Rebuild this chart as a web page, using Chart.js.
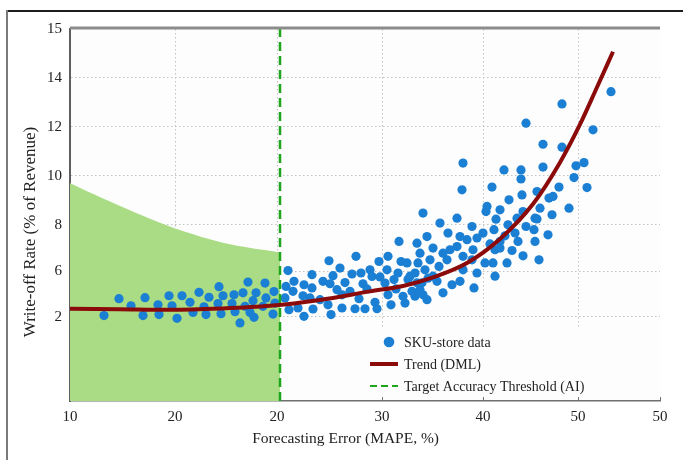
<!DOCTYPE html>
<html>
<head>
<meta charset="utf-8">
<script src="https://cdn.jsdelivr.net/npm/chart.js"></script>
<style>
  html, body { margin: 0; padding: 0; background: #fff; }
  #chart { display: block; }
</style>
</head>
<body>
<canvas id="chart" width="683" height="460"></canvas>
<script>
// values are in plot-axis units; the printed tick labels come from the label arrays below
const skuMape = [
  13.4, 14.9, 16.1, 17.3, 17.5, 18.8, 18.9, 19.9, 20.2, 20.7, 21.2, 22.0, 22.3, 22.9, 23.4, 23.6,
  23.9, 24.8, 24.9, 25.1, 25.3, 26.2, 26.4, 26.5, 27.0, 27.3, 27.5, 27.8, 28.0, 28.3, 28.4, 28.6,
  29.3, 29.5, 29.6, 30.3, 30.4, 30.5, 31.5, 31.8, 31.6, 32.4, 32.3, 31.9, 32.8, 33.4, 33.4, 33.3,
  34.2, 34.2, 34.0, 34.3, 35.0, 35.3, 35.9, 36.0, 35.8, 36.1, 36.3, 36.7, 37.0, 37.2, 37.2, 37.5,
  38.0, 38.2, 38.5, 38.6, 38.9, 39.1, 39.3, 39.5, 39.7, 40.0, 40.2, 40.5, 40.7, 40.9, 41.0, 41.5,
  41.7, 41.8, 41.8, 42.1, 42.4, 42.6, 42.8, 42.9, 43.1, 43.3, 43.5, 43.7, 43.8, 44.2, 44.5, 44.7,
  44.8, 45.0, 45.2, 45.3, 45.5, 45.7, 45.7, 45.8, 49.3, 49.2, 45.3, 47.0, 48.7, 50.2, 51.7, 51.6,
  52.2, 53.0, 53.4, 53.9, 55.1, 55.1, 55.2, 56.7, 57.3, 57.9, 58.3, 58.2, 57.8, 57.0, 56.5, 56.4,
  56.5, 56.9, 55.3, 54.7, 55.6, 55.3, 54.5, 53.8, 52.6, 52.4, 53.0, 52.5, 53.7, 52.5, 51.5, 51.3,
  50.7, 50.3, 50.2, 50.7, 50.4, 49.7, 49.0, 48.7, 49.3, 49.3, 49.0, 47.8, 48.0, 47.7, 47.3, 46.9,
  46.3, 46.0, 46.3, 47.3, 48.2, 44.7, 44.0, 44.5, 45.0, 46.7, 64.1, 59.2, 55.6, 62.3, 57.3, 59.2,
  61.4, 60.6, 60.4, 61.7, 58.9, 59.9, 56.7, 54.8, 52.0, 53.0, 54.2, 52.3, 53.5
];
const skuWriteOff = [
  4.29, 4.98, 4.69, 4.29, 5.02, 4.73, 4.33, 5.10, 4.69, 4.18, 5.10, 4.83, 4.42, 5.24, 4.65, 4.33,
  5.04, 4.78, 5.47, 4.37, 5.10, 4.78, 5.14, 4.45, 3.99, 5.22, 4.67, 5.66, 4.42, 4.90, 4.22, 5.22,
  4.67, 5.62, 5.01, 4.35, 5.27, 4.80, 5.01, 6.13, 5.48, 5.69, 5.28, 4.53, 4.60, 4.26, 5.55, 5.10,
  5.96, 5.42, 5.01, 4.56, 4.94, 5.69, 6.53, 5.59, 4.73, 4.33, 5.92, 5.35, 6.23, 5.14, 4.60, 5.64,
  5.28, 5.99, 4.57, 6.71, 4.98, 6.03, 5.59, 4.57, 5.38, 6.16, 5.89, 4.83, 4.57, 6.50, 5.87, 5.62,
  6.16, 6.71, 5.14, 4.73, 5.76, 5.38, 6.03, 7.32, 6.50, 5.08, 4.80, 6.44, 5.76, 5.28, 6.03, 7.25,
  6.44, 6.84, 5.63, 5.14, 6.16, 7.52, 4.94, 5.82, 10.52, 9.43, 8.48, 8.07, 8.27, 7.93, 8.75, 8.54,
  9.54, 8.61, 10.24, 9.02, 10.24, 9.87, 9.22, 9.36, 10.36, 9.09, 9.16, 8.41, 7.59, 8.68, 8.27, 7.80,
  7.32, 6.57, 8.54, 8.27, 7.93, 6.73, 7.66, 8.00, 8.23, 7.80, 7.32, 6.98, 6.44, 5.90, 6.44, 7.66,
  7.46, 6.98, 6.57, 6.03, 5.42, 7.39, 7.52, 7.11, 6.71, 6.16, 5.69, 7.66, 6.98, 6.57, 6.84, 6.30,
  7.05, 6.57, 5.90, 5.22, 5.55, 5.63, 5.90, 5.08, 5.35, 5.69, 13.44, 12.94, 12.15, 11.88, 11.29, 11.17,
  10.54, 10.41, 9.93, 9.52, 9.54, 8.68, 8.24, 7.32, 7.22, 7.05, 6.95, 6.44, 7.55
];

const trendMape = [10, 15, 20, 25, 30, 35, 40, 43.3, 46.3, 49.7, 53, 56.3, 59, 61, 62.7, 64.3];
const trendWriteOff = [4.57, 4.55, 4.53, 4.58, 4.69, 4.93, 5.28, 5.5, 5.85, 6.44, 7.42, 8.85, 10.55, 12.1, 13.62, 15.07];

const zoneMape = [10, 14, 18, 22, 26, 31];
const zoneCeiling = [9.70, 8.95, 8.25, 7.65, 7.2, 6.87];

const thresholdMape = 31;

const xMin = 10, xMax = 69;
const yMin = 0.8, yMax = 16;
const xTickPos = [10, 20.5, 30.7, 41.2, 51.3, 60.8, 69];
const xTickLabels = ['10', '20', '20', '30', '40', '50', '50'];
const yTickPos = [4.25, 6.1, 8, 10, 12, 14, 16];
const yTickLabels = ['2', '6', '8', '10', '12', '14', '15'];

const serif = "'Liberation Serif', 'DejaVu Serif', serif";
const pts = (xs, ys) => xs.map((x, i) => ({x: x, y: ys[i]}));

const frame = {
  id: 'frame',
  beforeDraw(chart) {
    const {ctx, chartArea: a, width, height} = chart;
    ctx.save();
    ctx.fillStyle = '#fff';
    ctx.fillRect(0, 0, width, height);
    ctx.fillStyle = '#fdfdfd';
    ctx.fillRect(a.left, a.top, a.right - a.left, a.bottom - a.top);
    ctx.lineWidth = 2;
    ctx.strokeStyle = '#1e1e1e';
    ctx.beginPath(); ctx.moveTo(7, 11); ctx.lineTo(width, 11); ctx.stroke();
    ctx.strokeStyle = '#7a7a7a';
    ctx.beginPath(); ctx.moveTo(7, 10); ctx.lineTo(7, height); ctx.stroke();
    ctx.restore();
  },
  beforeDatasetsDraw(chart) {
    // legend backdrop hides the grid behind it
    const {ctx, chartArea: a} = chart;
    ctx.save();
    ctx.fillStyle = '#fdfdfd';
    ctx.fillRect(290, a.bottom - 72, a.right - 291, 71);
    ctx.restore();
  },
  afterDraw(chart) {
    const {ctx, chartArea: a} = chart;
    ctx.save();
    ctx.strokeStyle = '#8c8c8c';
    ctx.lineWidth = 3;
    ctx.beginPath(); ctx.moveTo(a.left, a.top - 1); ctx.lineTo(a.right, a.top - 1); ctx.stroke();

    // small upward ticks on the bottom axis
    ctx.strokeStyle = '#707070';
    ctx.lineWidth = 1;
    const xs = chart.scales.x;
    xTickPos.slice(3).forEach(v => {
      const px = Math.round(xs.getPixelForValue(v)) + 0.5;
      ctx.beginPath(); ctx.moveTo(px, a.bottom); ctx.lineTo(px, a.bottom - 4); ctx.stroke();
    });

    const ds = chart.data.datasets;
    const rows = [ds[2], ds[0], ds[1]];
    ctx.font = '14px ' + serif;
    ctx.textBaseline = 'middle';
    rows.forEach((d, i) => {
      const y = a.bottom - 59 + i * 22;
      if (i === 0) {
        ctx.fillStyle = d.backgroundColor;
        ctx.beginPath(); ctx.arc(389, y, 5.3, 0, Math.PI * 2); ctx.fill();
      } else {
        ctx.strokeStyle = d.borderColor;
        ctx.lineWidth = i === 1 ? 4 : 2;
        ctx.setLineDash(i === 2 ? [7, 4] : []);
        ctx.beginPath(); ctx.moveTo(370, y); ctx.lineTo(398, y); ctx.stroke();
        ctx.setLineDash([]);
      }
      ctx.fillStyle = '#222';
      ctx.fillText(d.label, 404, y + 1);
    });
    ctx.restore();
  }
};

new Chart(document.getElementById('chart'), {
  type: 'scatter',
  data: {
    datasets: [
      {
        type: 'line',
        label: 'Trend (DML)',
        data: pts(trendMape, trendWriteOff),
        borderColor: '#8b0a0a',
        borderWidth: 4,
        pointRadius: 0,
        cubicInterpolationMode: 'monotone',
        fill: false,
        order: 0
      },
      {
        type: 'line',
        label: 'Target Accuracy Threshold (AI)',
        data: [{x: thresholdMape, y: yMin}, {x: thresholdMape, y: yMax}],
        borderColor: '#1ea51e',
        borderWidth: 2.5,
        borderDash: [9, 5],
        pointRadius: 0,
        fill: false,
        order: 1
      },
      {
        label: 'SKU-store data',
        data: pts(skuMape, skuWriteOff),
        backgroundColor: '#1b7fd3',
        borderWidth: 0,
        pointRadius: 4.6,
        order: 2
      },
      {
        type: 'line',
        label: 'zone',
        data: pts(zoneMape, zoneCeiling),
        borderWidth: 0,
        borderColor: 'rgba(0,0,0,0)',
        backgroundColor: '#a9dc84',
        pointRadius: 0,
        tension: 0.4,
        fill: 'start',
        order: 3
      }
    ]
  },
  options: {
    responsive: false,
    animation: false,
    events: [],
    layout: { padding: { top: 29, right: 23, bottom: 0, left: 0 } },
    plugins: { legend: { display: false }, tooltip: { enabled: false } },
    scales: {
      x: {
        type: 'linear',
        min: xMin,
        max: xMax,
        afterBuildTicks: s => { s.ticks = xTickPos.map(v => ({value: v})); },
        afterFit: s => { s.height = 59; },
        ticks: {
          autoSkip: false,
          maxRotation: 0,
          padding: 7,
          color: '#222',
          font: { family: serif, size: 15 },
          callback: (v, i) => xTickLabels[i]
        },
        grid: {
          drawTicks: false,
          lineWidth: 1,
          color: c => (c.tick && (c.tick.value === xMin || c.tick.value === xMax)) ? 'rgba(0,0,0,0)' : '#c2c2c2'
        },
        border: { display: true, color: '#707070', width: 1.5, dash: [1.5, 2.5] },
        title: {
          display: true,
          text: 'Forecasting Error (MAPE, %)\u2003\u2003\u2002',
          color: '#222',
          font: { family: serif, size: 15.5 },
          padding: { top: 0, bottom: 12 }
        }
      },
      y: {
        type: 'linear',
        min: yMin,
        max: yMax,
        afterBuildTicks: s => { s.ticks = yTickPos.map(v => ({value: v})); },
        afterFit: s => { s.width = 70; },
        ticks: {
          autoSkip: false,
          padding: 8,
          color: '#222',
          font: { family: serif, size: 15 },
          callback: (v, i) => yTickLabels[i]
        },
        grid: {
          drawTicks: false,
          lineWidth: 1,
          color: c => (c.tick && c.tick.value === yMax) ? 'rgba(0,0,0,0)' : '#c2c2c2'
        },
        border: { display: true, color: '#5e5e5e', width: 2, dash: [1.5, 2.5] },
        title: {
          display: true,
          text: 'Write-off Rate (% of Revenue)\u2003\u2003',
          color: '#222',
          font: { family: serif, size: 17 },
          padding: { top: 20, bottom: 0 }
        }
      }
    }
  },
  plugins: [frame]
});
</script>
</body>
</html>
